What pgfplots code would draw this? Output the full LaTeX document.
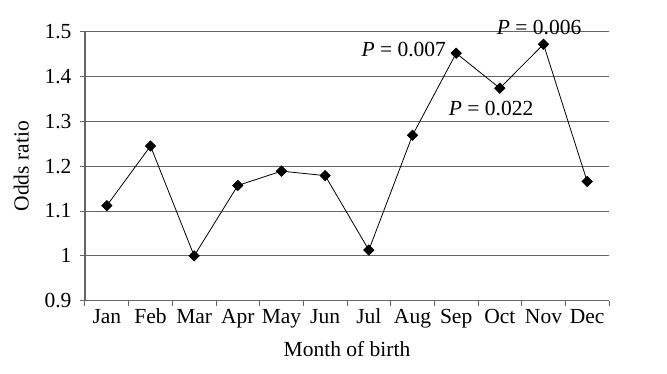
\documentclass[border=0pt]{standalone}
\usepackage{fontspec}
\setmainfont{Liberation Serif}
\usepackage{pgfplots}
\pgfplotsset{compat=1.18}
\definecolor{axgray}{HTML}{666666}
\newcommand{\fs}{\fontsize{21.5}{24}\selectfont}
\begin{document}
\begin{tikzpicture}[x=1pt,y=1pt]
\begin{axis}[
  at={(0,0)}, anchor=south west,
  scale only axis,
  width=524pt, height=269pt,
  xmin=0, xmax=12, ymin=0.9, ymax=1.5,
  ytick={0.9,1.0,1.1,1.2,1.3,1.4,1.5},
  yticklabels={0.9,1,1.1,1.2,1.3,1.4,1.5},
  xtick={0,1,...,12},
  xticklabels={},
  extra x ticks={0.5,1.5,2.5,3.5,4.5,5.5,6.5,7.5,8.5,9.5,10.5,11.5},
  extra x tick labels={Jan,Feb,Mar,Apr,May,Jun,Jul,Aug,Sep,Oct,Nov,Dec},
  extra x tick style={major tick length=0pt, grid=none,
    xticklabel style={yshift=-5pt, text height=14pt, text depth=4pt}},
  axis x line*=bottom, axis y line*=left,
  tick align=outside,
  axis line style={axgray, line width=1.2pt, -},
  tick style={axgray, line width=1pt},
  major tick length=5pt,
  ymajorgrids, grid style={axgray, line width=1pt},
  tick label style={font=\fs},
  yticklabel style={xshift=-5pt},
  /pgf/number format/assume math mode=true,
  xlabel={Month of birth}, ylabel={Odds ratio},
  label style={font=\fs},
  xlabel style={yshift=-2pt},
  ylabel style={yshift=9pt},
  clip=false,
]
\addplot[black, line width=0.8pt, mark=square*, mark size=3.6pt, mark options={rotate=45, fill=black}]
 coordinates {(0.5,1.112) (1.5,1.245) (2.5,1.000) (3.5,1.157) (4.5,1.189) (5.5,1.179)
 (6.5,1.013) (7.5,1.269) (8.5,1.452) (9.5,1.374) (10.5,1.472) (11.5,1.166)};
\node[anchor=east, font=\fs, inner sep=0pt] at (axis cs:8.27,1.461) {\textit{P} = 0.007};
\node[font=\fs, inner sep=0pt] at (axis cs:10.4,1.51) {\textit{P} = 0.006};
\node[font=\fs, inner sep=0pt] at (axis cs:9.30,1.328) {\textit{P} = 0.022};
\end{axis}
\path (-85pt,-73.3pt) rectangle (582pt,300.7pt);
\end{tikzpicture}
\end{document}
